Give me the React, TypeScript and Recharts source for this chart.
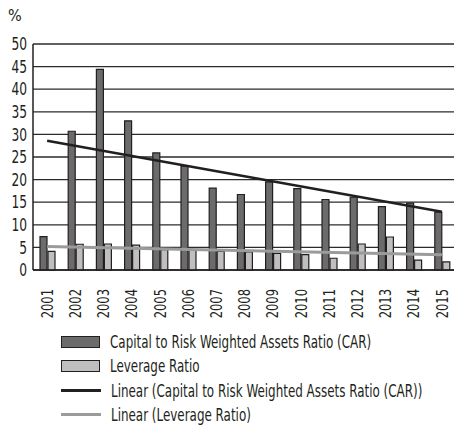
import React from 'react'
import { ComposedChart, Bar, Line, XAxis, YAxis, CartesianGrid, Legend } from 'recharts'

const years = ['2001', '2002', '2003', '2004', '2005', '2006', '2007', '2008', '2009', '2010', '2011', '2012', '2013', '2014', '2015']
const carValues = [7.4, 30.7, 44.4, 33.0, 25.9, 23.0, 18.1, 16.7, 19.5, 18.0, 15.6, 16.1, 14.0, 14.8, 12.8]
const leverageValues = [4.1, 5.7, 5.75, 5.5, 4.5, 4.35, 4.1, 4.0, 3.7, 3.4, 2.6, 5.75, 7.3, 2.2, 1.8]
// trend lines: only the two end points
const carTrend = [28.6, null, null, null, null, null, null, null, null, null, null, null, null, null, 12.9]
const leverageTrend = [5.2, null, null, null, null, null, null, null, null, null, null, null, null, null, 3.4]
const yTicks = [0, 5, 10, 15, 20, 25, 30, 35, 40, 45, 50]

const CAR_NAME = 'Capital to Risk Weighted Assets Ratio (CAR)'
const LEV_NAME = 'Leverage Ratio'

const data = years.map((year, i) => ({
    year,
    car: carValues[i],
    leverage: leverageValues[i],
    carTrend: carTrend[i],
    leverageTrend: leverageTrend[i],
}))

const FONT = '"DejaVu Sans Condensed", "Liberation Sans Narrow", sans-serif'
const INK = '#231f20'
// the original uses a very narrow face, squeeze the condensed one to match
const SQUEEZE = 0.8

const legendItems = [
    { label: CAR_NAME, kind: 'bar', fill: '#6b6b6b' },
    { label: LEV_NAME, kind: 'bar', fill: '#bfbfbf' },
    { label: `Linear (${CAR_NAME})`, kind: 'line', fill: INK },
    { label: `Linear (${LEV_NAME})`, kind: 'line', fill: '#9b9b9b' },
]

function YearTick({ x, y, payload }: any) {
    return (
        <text
            x={0}
            y={0}
            dy="0.36em"
            transform={`translate(${x},${y + 11}) rotate(-90) scale(${SQUEEZE},1)`}
            textAnchor="end"
            fill={INK}
            fontSize={16}
            fontFamily={FONT}
        >
            {payload.value}
        </text>
    )
}

function ValueTick({ x, y, payload }: any) {
    return (
        <text
            x={0}
            y={0}
            dy="0.36em"
            transform={`translate(${x},${y}) scale(${SQUEEZE},1)`}
            textAnchor="end"
            fill={INK}
            fontSize={17}
            fontFamily={FONT}
        >
            {payload.value}
        </text>
    )
}

function LegendBox() {
    return (
        <div style={{ position: 'relative', height: 127, fontFamily: FONT, fontSize: 17, color: INK }}>
            {legendItems.map((item, i) => (
                <div
                    key={item.label}
                    style={{ position: 'absolute', left: 61, top: 22 + i * 24.3 - 10, height: 20, display: 'flex', alignItems: 'center' }}
                >
                    {item.kind === 'bar' ? (
                        <div style={{ width: 37, height: 10, background: item.fill, border: `1.5px solid ${INK}` }} />
                    ) : (
                        <div style={{ width: 40, height: 3, background: item.fill }} />
                    )}
                    <span
                        style={{
                            marginLeft: 10,
                            whiteSpace: 'nowrap',
                            display: 'inline-block',
                            transform: `scaleX(${0.78})`,
                            transformOrigin: 'left center',
                        }}
                    >
                        {item.label}
                    </span>
                </div>
            ))}
        </div>
    )
}

export default function App() {
    return (
        <div style={{ position: 'absolute', left: 0, top: 0, width: 454, height: 447, overflow: 'hidden', background: '#fff' }}>
            <ComposedChart width={456} height={447} data={data} margin={{ top: 44, right: 0, bottom: 0, left: 0 }} barSize={7} barGap={1}>
                <CartesianGrid vertical={false} stroke="#2b2b2b" strokeWidth={1.3} />
                <XAxis
                    dataKey="year"
                    height={50}
                    tick={<YearTick />}
                    tickLine={false}
                    axisLine={{ stroke: INK, strokeWidth: 1.5 }}
                    interval={0}
                />
                <YAxis
                    width={33}
                    domain={[0, 50]}
                    ticks={yTicks}
                    interval={0}
                    tickSize={0}
                    tickMargin={6}
                    tickLine={false}
                    axisLine={{ stroke: INK, strokeWidth: 1.5 }}
                    tick={<ValueTick />}
                    label={{
                        value: '%',
                        content: () => (
                            <text x={8} y={21} fill={INK} fontSize={16} fontFamily={FONT}>
                                %
                            </text>
                        ),
                    }}
                />
                <Legend verticalAlign="bottom" height={127} wrapperStyle={{ left: 0, width: 454 }} content={() => <LegendBox />} />
                <Bar dataKey="car" name={CAR_NAME} fill="#6b6b6b" stroke={INK} strokeWidth={1.2} isAnimationActive={false} />
                <Bar dataKey="leverage" name={LEV_NAME} fill="#bfbfbf" stroke={INK} strokeWidth={1.2} isAnimationActive={false} />
                <Line dataKey="carTrend" name={`Linear (${CAR_NAME})`} stroke={INK} strokeWidth={2.5} dot={false} connectNulls isAnimationActive={false} />
                <Line dataKey="leverageTrend" name={`Linear (${LEV_NAME})`} stroke="#9b9b9b" strokeWidth={3} dot={false} connectNulls isAnimationActive={false} />
            </ComposedChart>
        </div>
    )
}
